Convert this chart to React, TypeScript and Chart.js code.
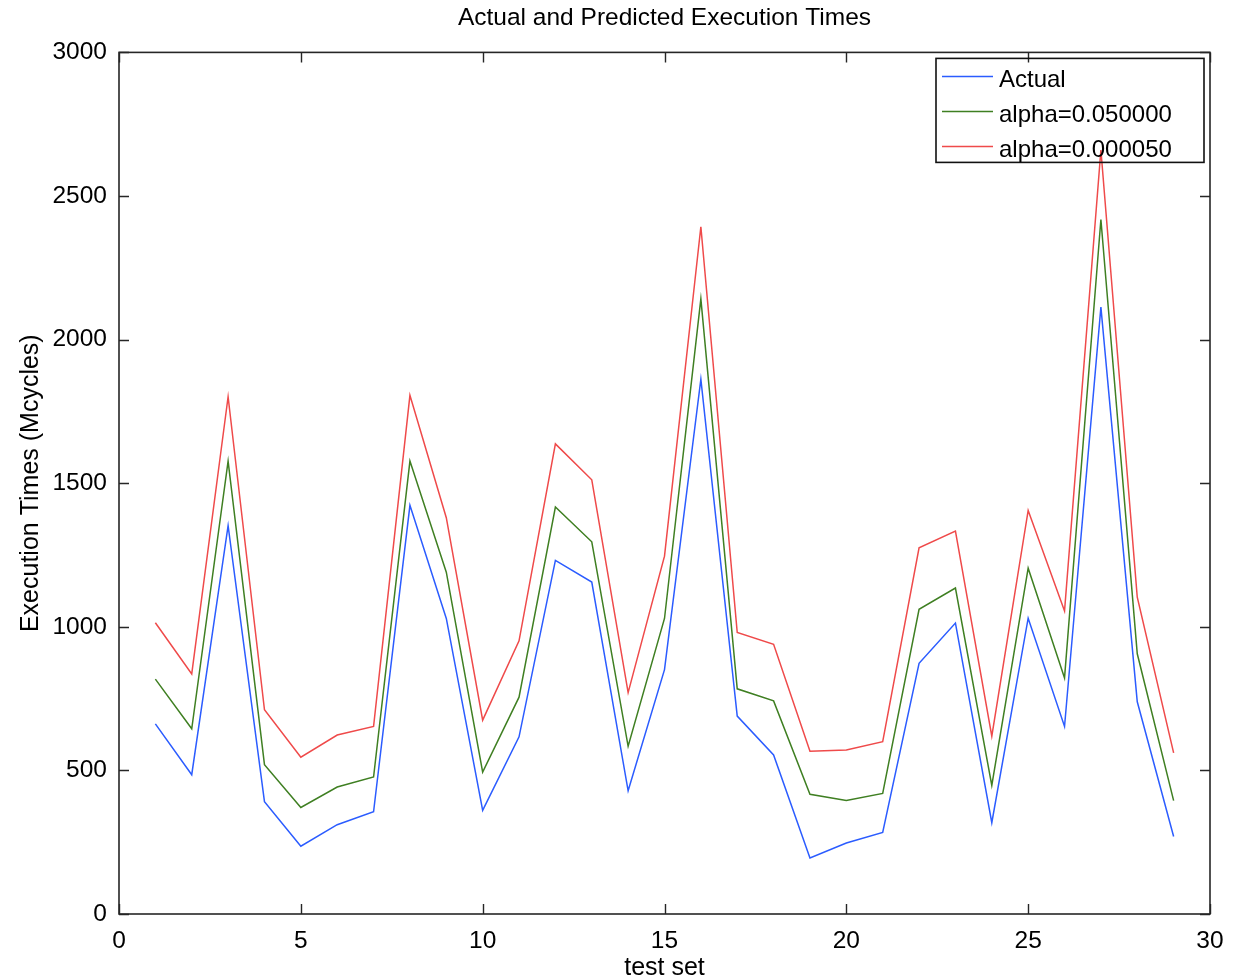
import React, { useEffect, useRef } from "react";
import { Chart, registerables } from "chart.js";

Chart.register(...registerables);

const testSet = [1, 2, 3, 4, 5, 6, 7, 8, 9, 10, 11, 12, 13, 14, 15, 16, 17, 18, 19, 20, 21, 22, 23, 24, 25, 26, 27, 28, 29];
const actual = [662, 485, 1352, 391, 236, 311, 356, 1423, 1029, 361, 617, 1231, 1156, 429, 851, 1862, 689, 554, 195, 247, 284, 873, 1013, 318, 1030, 653, 2113, 739, 270];
const alpha050000 = [818, 645, 1577, 520, 371, 442, 477, 1577, 1190, 494, 755, 1417, 1296, 584, 1029, 2142, 784, 742, 417, 395, 420, 1061, 1135, 448, 1204, 822, 2418, 906, 395];
const alpha000050 = [1014, 836, 1801, 711, 546, 623, 653, 1806, 1380, 675, 951, 1637, 1512, 771, 1246, 2393, 980, 939, 567, 571, 600, 1275, 1333, 619, 1405, 1055, 2660, 1103, 561];

const seriesLabels = ["Actual", "alpha=0.050000", "alpha=0.000050"];
const seriesColors = ["#2b5cff", "#3f7f22", "#ef4a4a"];

const FONT = "'Liberation Sans', Arial, Helvetica, sans-serif";
const AXIS_COLOR = "#262626";

const frameAndTicks = {
  id: "frameAndTicks",
  afterDraw(chart: any) {
    const { ctx, chartArea } = chart;
    const { left, right, top, bottom } = chartArea;
    const xs = chart.scales.x;
    const ys = chart.scales.y;
    const len = 10;
    ctx.save();
    ctx.strokeStyle = AXIS_COLOR;
    ctx.lineWidth = 1.4;
    ctx.beginPath();
    xs.ticks.forEach((t: any) => {
      const px = Math.round(xs.getPixelForValue(t.value)) + 0.5;
      ctx.moveTo(px, bottom);
      ctx.lineTo(px, bottom - len);
      ctx.moveTo(px, top);
      ctx.lineTo(px, top + len);
    });
    ys.ticks.forEach((t: any) => {
      const py = Math.round(ys.getPixelForValue(t.value)) + 0.5;
      ctx.moveTo(left, py);
      ctx.lineTo(left + len, py);
      ctx.moveTo(right, py);
      ctx.lineTo(right - len, py);
    });
    ctx.stroke();
    ctx.lineWidth = 1.6;
    ctx.strokeRect(left, top, right - left, bottom - top);
    ctx.restore();
  },
};

const boxLegend = {
  id: "boxLegend",
  afterDraw(chart: any) {
    const { ctx, chartArea } = chart;
    const boxRight = chartArea.right - 6;
    const boxLeft = boxRight - 268;
    const boxTop = chartArea.top + 6;
    const rowH = 35;
    const sets = chart.data.datasets;
    const boxH = rowH * sets.length - 1;
    ctx.save();
    ctx.strokeStyle = "#111";
    ctx.lineWidth = 1.6;
    ctx.strokeRect(boxLeft, boxTop, boxRight - boxLeft, boxH);
    ctx.font = `24px ${FONT}`;
    ctx.textBaseline = "middle";
    ctx.textAlign = "left";
    sets.forEach((ds: any, i: number) => {
      const cy = boxTop + 22 + i * rowH;
      ctx.strokeStyle = ds.borderColor;
      ctx.lineWidth = 1.5;
      ctx.beginPath();
      ctx.moveTo(boxLeft + 6, cy - 4);
      ctx.lineTo(boxLeft + 57, cy - 4);
      ctx.stroke();
      ctx.fillStyle = "#000";
      ctx.fillText(ds.label, boxLeft + 63, cy);
    });
    ctx.restore();
  },
};

export default function App() {
  const ref = useRef<HTMLCanvasElement>(null);

  useEffect(() => {
    if (!ref.current) return;
    const series = [actual, alpha050000, alpha000050];
    const chart = new Chart(ref.current, {
      type: "line",
      data: {
        datasets: series.map((vals, i) => ({
          label: seriesLabels[i],
          data: testSet.map((x, j) => ({ x, y: vals[j] })),
          borderColor: seriesColors[i],
          backgroundColor: seriesColors[i],
          borderWidth: 1.5,
          pointRadius: 0,
          tension: 0,
          fill: false,
        })),
      },
      options: {
        responsive: false,
        animation: false,
        devicePixelRatio: 1,
        layout: { padding: { top: 0, right: 25, bottom: 0, left: 0 } },
        plugins: {
          legend: { display: false },
          tooltip: { enabled: false },
          title: {
            display: true,
            fullSize: false,
            text: "Actual and Predicted Execution Times",
            color: "#000",
            font: { family: FONT, size: 24.5, weight: "normal" },
            padding: { top: 4, bottom: 19 },
          },
        },
        scales: {
          x: {
            type: "linear",
            min: 0,
            max: 30,
            grid: { display: false, drawTicks: false },
            border: { display: false },
            ticks: {
              stepSize: 5,
              color: "#000",
              padding: 13,
              maxRotation: 0,
              font: { family: FONT, size: 24.5 },
              callback: (v: any) => String(v),
            },
            title: {
              display: true,
              text: "test set",
              color: "#000",
              font: { family: FONT, size: 25 },
              padding: { top: 0, bottom: -3 },
            },
            afterFit(scale: any) {
              scale.height = 66;
              scale.paddingRight = 0;
              scale.paddingLeft = 0;
            },
          },
          y: {
            type: "linear",
            min: 0,
            max: 3000,
            grid: { display: false, drawTicks: false },
            border: { display: false },
            ticks: {
              stepSize: 500,
              color: "#000",
              padding: 12,
              font: { family: FONT, size: 24.5 },
              callback: (v: any) => String(v),
            },
            title: {
              display: true,
              text: "Execution Times (Mcycles)",
              color: "#000",
              font: { family: FONT, size: 25 },
              padding: { top: 16, bottom: 0 },
            },
            afterFit(scale: any) {
              scale.width = 119;
            },
          },
        },
      },
      plugins: [frameAndTicks, boxLegend],
    });
    return () => chart.destroy();
  }, []);

  return (
    <div style={{ position: "absolute", left: 0, top: 0, width: 1235, height: 980, background: "#fff" }}>
      <canvas ref={ref} width={1235} height={980} />
    </div>
  );
}
